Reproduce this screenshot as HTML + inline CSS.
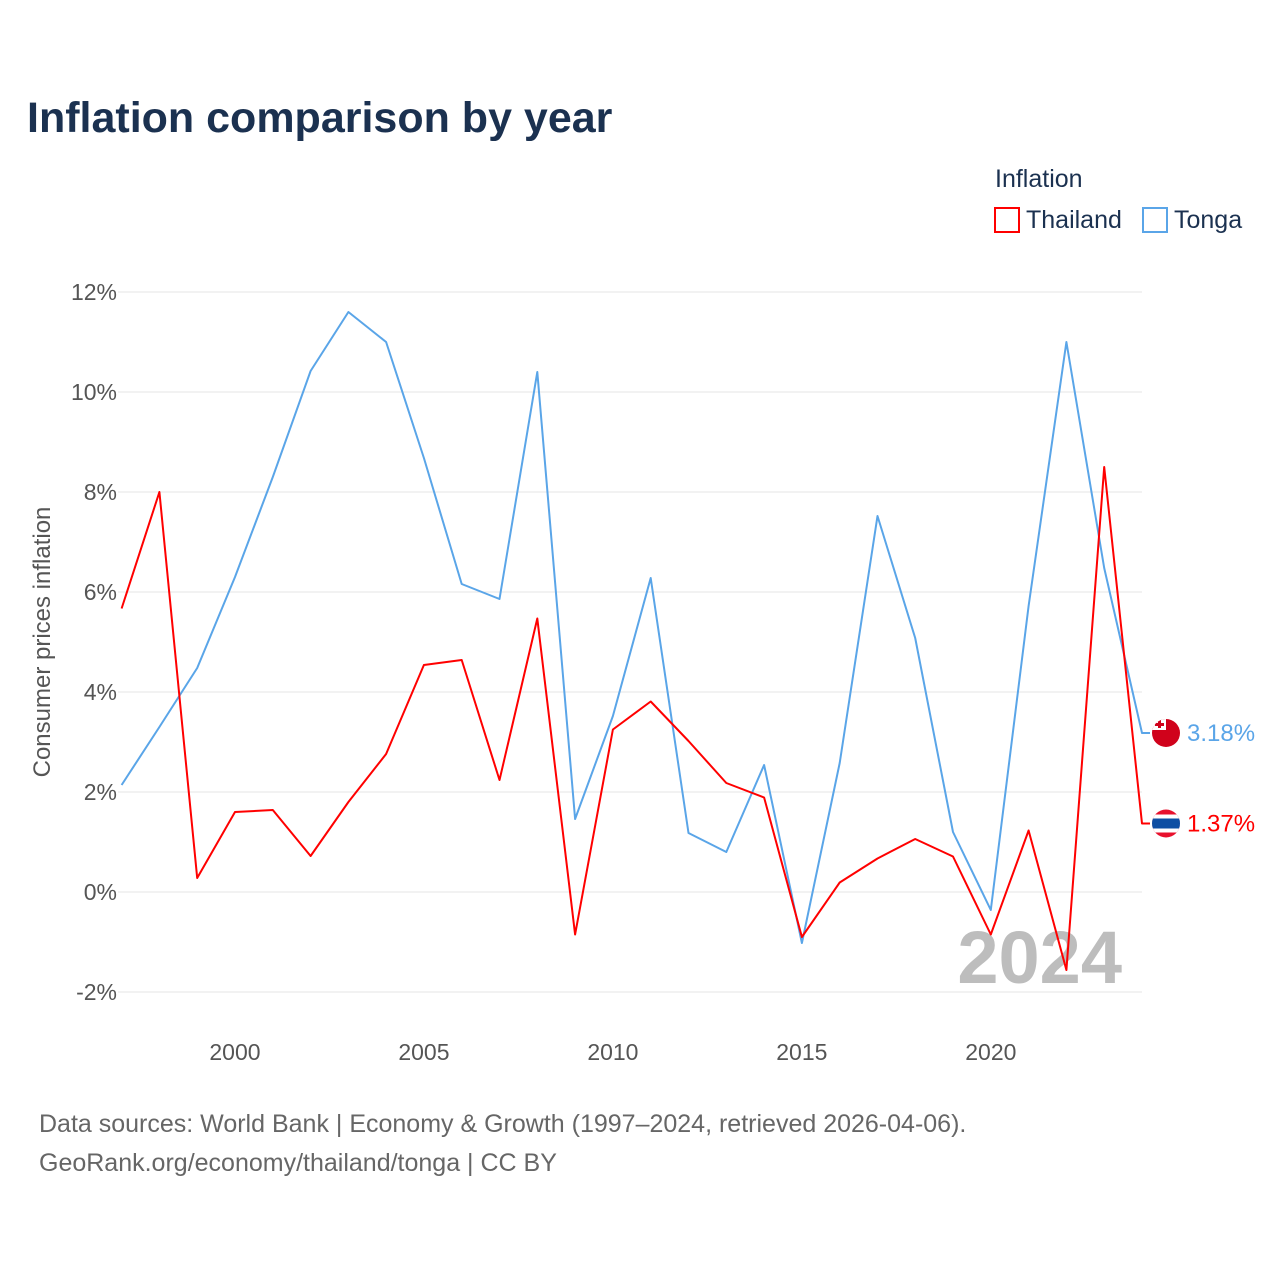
<!DOCTYPE html>
<html><head><meta charset="utf-8"><style>
body{margin:0;background:#fff;font-family:"Liberation Sans",sans-serif;}
svg text{font-family:"Liberation Sans",sans-serif;}
</style></head><body>
<svg width="1280" height="1280" viewBox="0 0 1280 1280" xmlns="http://www.w3.org/2000/svg">
<text x="27" y="132" font-size="43" font-weight="bold" fill="#1b3150">Inflation comparison by year</text>
<text x="995" y="187" font-size="25" fill="#1b3150">Inflation</text>
<g><rect x="995" y="208" width="24" height="24" fill="none" stroke="#ff0000" stroke-width="2"/><text x="1026" y="228" font-size="25" fill="#1b3150">Thailand</text></g>
<g><rect x="1143" y="208" width="24" height="24" fill="none" stroke="#5aa5e8" stroke-width="2"/><text x="1174" y="228" font-size="25" fill="#1b3150">Tonga</text></g>
<g id="grid"></g>
<g id="yt"></g>
<g id="xt"></g>
<text transform="translate(50,642) rotate(-90)" text-anchor="middle" font-size="24" fill="#555">Consumer prices inflation</text>
<text x="1122" y="983" text-anchor="end" font-size="74" font-weight="bold" fill="#bdbdbd">2024</text>
<g id="series"></g>
<text x="39" y="1132" font-size="25" fill="#666">Data sources: World Bank | Economy &amp; Growth (1997–2024, retrieved 2026-04-06).</text>
<text x="39" y="1171" font-size="25" fill="#666">GeoRank.org/economy/thailand/tonga | CC BY</text>
</svg>
<script>
const years=[1997,1998,1999,2000,2001,2002,2003,2004,2005,2006,2007,2008,2009,2010,2011,2012,2013,2014,2015,2016,2017,2018,2019,2020,2021,2022,2023,2024];
const thailand=[5.67,8.0,0.28,1.6,1.64,0.72,1.8,2.76,4.54,4.64,2.24,5.47,-0.85,3.25,3.81,3.02,2.18,1.89,-0.9,0.19,0.67,1.06,0.71,-0.85,1.23,-1.56,8.5,1.37];
const tonga=[2.14,3.3,4.48,6.3,8.3,10.42,11.6,11.0,8.68,6.16,5.86,10.4,1.46,3.52,6.28,1.18,0.8,2.54,-1.02,2.58,7.52,5.08,1.2,-0.36,5.72,11.0,6.48,3.18];
const yTicks=[-2,0,2,4,6,8,10,12];
const xTicks=[2000,2005,2010,2015,2020];
const NS="http://www.w3.org/2000/svg";
const x=v=>121.6+(v-1997)*(1142-121.6)/27;
const y=v=>892-v*50;
function mk(t,a,p){const e=document.createElementNS(NS,t);for(const k in a)e.setAttribute(k,a[k]);p.appendChild(e);return e;}
const svg=document.querySelector('svg');
const defs=mk('defs',{},svg);
const grid=document.getElementById('grid'),yt=document.getElementById('yt'),xt=document.getElementById('xt'),ser=document.getElementById('series');
yTicks.forEach(v=>{
 const l=mk('line',{x1:118,x2:1142,y1:y(v),y2:y(v),stroke:'#e6e6e6','stroke-width':1},grid);
 
 
 const t=mk('text',{x:117,y:y(v)+8,'text-anchor':'end','font-size':23,fill:'#555'},yt);
 t.textContent=v+'%';
 
 
});
xTicks.forEach(v=>{
 const t=mk('text',{x:x(v),y:1060,'text-anchor':'middle','font-size':23,fill:'#555'},xt);
 t.textContent=v;
 
 
});
function line(vals,color,name){
 const d=vals.map((v,i)=>(i?'L':'M')+x(years[i]).toFixed(1)+','+y(v).toFixed(1)).join('')+'H1150';
 const p=mk('path',{d:d,fill:'none',stroke:color,'stroke-width':2,'stroke-linejoin':'round'},ser);
 
 
 const last=vals[vals.length-1],cy=y(last);
 const cp=mk('clipPath',{id:'clip-'+name},defs);
 mk('circle',{cx:1166,cy:cy,r:14},cp);
 const g=mk('g',{},ser);
 
 
 const f=mk('g',{'clip-path':'url(#clip-'+name+')'},g);
 if(name==='tonga'){
  mk('rect',{x:1150,y:cy-16,width:32,height:32,fill:'#d0021b'},f);
  mk('rect',{x:1150,y:cy-16,width:16,height:13,fill:'#fff'},f);
  mk('rect',{x:1158,y:cy-13,width:3,height:8,fill:'#d0021b'},f);
  mk('rect',{x:1155,y:cy-10,width:9,height:3,fill:'#d0021b'},f);
 }else{
  mk('rect',{x:1150,y:cy-16,width:32,height:32,fill:'#e8112d'},f);
  mk('rect',{x:1150,y:cy-9,width:32,height:18,fill:'#fff'},f);
  mk('rect',{x:1150,y:cy-5,width:32,height:10,fill:'#0d4ea3'},f);
 }
 const t=mk('text',{x:1187,y:cy+8,'font-size':24,fill:color},g);
 t.textContent=last.toFixed(2)+'%';
}
line(tonga,'#5aa5e8','tonga');
line(thailand,'#ff0000','thailand');
</script>
</body></html>
